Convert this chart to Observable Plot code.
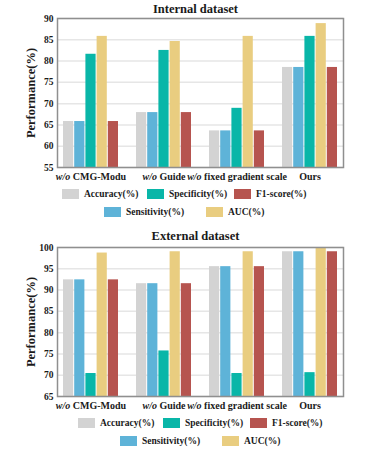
<!DOCTYPE html>
<html>
<head>
<meta charset="utf-8">
<script src="https://cdn.jsdelivr.net/npm/d3@7"></script>
<script src="https://cdn.jsdelivr.net/npm/@observablehq/plot@0.6"></script>
<style>
  body { margin: 0; background: #fff; }
  #wrap { position: relative; width: 391px; height: 452px; font-family: "Liberation Serif", "DejaVu Serif", serif; font-weight: bold; color: #1a1a1a; overflow: hidden; }
  .title { position: absolute; left: 0; width: 391px; text-align: center; font-size: 12.5px; line-height: 14px; }
  .ylab { position: absolute; font-size: 12.5px; line-height: 14px; white-space: nowrap; transform: translate(-50%, -50%) rotate(-90deg); }
  .chart { position: absolute; left: 0; }
  .leg { position: absolute; display: flex; align-items: center; font-size: 9.5px; white-space: nowrap; }
  .sw { width: 17px; height: 10px; margin-right: 5px; }
</style>
</head>
<body>
<div id="wrap"></div>
<script>
const categories = ["w/o CMG-Modu", "w/o Guide", "w/o fixed gradient scale", "Ours"];
const metrics = ["Accuracy(%)", "Sensitivity(%)", "Specificity(%)", "AUC(%)", "F1-score(%)"];
const colors = ["#d3d3d3", "#5eb3d8", "#09b6a8", "#e9cd80", "#b6544f"];

// Internal dataset
const internalAccuracy    = [65.8, 67.9, 63.6, 78.5];
const internalSensitivity = [65.8, 67.9, 63.6, 78.5];
const internalSpecificity = [81.6, 82.5, 68.9, 85.8];
const internalAUC         = [85.8, 84.6, 85.8, 88.8];
const internalF1          = [65.8, 67.9, 63.6, 78.5];

// External dataset
const externalAccuracy    = [92.4, 91.5, 95.5, 99.0];
const externalSensitivity = [92.4, 91.5, 95.5, 99.0];
const externalSpecificity = [70.4, 75.7, 70.4, 70.6];
const externalAUC         = [98.7, 99.0, 99.0, 99.8];
const externalF1          = [92.4, 91.5, 95.5, 99.0];

const internalDomain = [55, 90];
const internalTicks = [55, 60, 65, 70, 75, 80, 85, 90];
const externalDomain = [65, 100];
const externalTicks = [65, 70, 75, 80, 85, 90, 95, 100];

const titles = ["Internal dataset", "External dataset"];
const yLabel = "Performance(%)";

const wrap = document.getElementById("wrap");

const W = 391, mL = 57, mR = 48, mT = 18, mB = 18, plotH = 149;
const padIn = 0.243, padOut = 0.054;

function makeChart(series, domain, ticks) {
  const rows = categories.flatMap((c, i) => metrics.map((m, j) => ({category: c, metric: m, value: series[j][i]})));
  const step = (W - mL - mR) / (categories.length - padIn + 2 * padOut);
  const bw = step * (1 - padIn);
  const w = bw / metrics.length;
  const svg = Plot.plot({
    width: W,
    height: mT + plotH + mB,
    marginTop: mT, marginBottom: mB, marginLeft: mL, marginRight: mR,
    style: {fontFamily: "'Liberation Serif', serif", fontWeight: "bold", fontSize: "9.5px", color: "#1a1a1a", background: "transparent", overflow: "visible"},
    x: {domain: categories, paddingInner: padIn, paddingOuter: padOut, label: null, tickSize: 0, tickPadding: 5},
    y: {domain, ticks, label: null, tickSize: 0, tickPadding: 4},
    marks: [
      Plot.ruleY(ticks, {stroke: "#e6e6e6", strokeWidth: 1.5}),
      ...metrics.map((m, j) => Plot.barY(rows.filter(d => d.metric === m), {
        x: "category", y1: domain[0], y2: "value", fill: colors[j],
        insetLeft: j * w, insetRight: (metrics.length - 1 - j) * w
      })),
      Plot.frame({stroke: "#8f8f8f", strokeWidth: 1.5})
    ]
  });
  // italic "w/o" in category labels
  d3.select(svg).selectAll("text").each(function() {
    const t = this.textContent;
    if (categories.includes(t)) {
      const sel = d3.select(this).style("font-size", "10px");
      if (t.startsWith("w/o ")) {
        sel.text(null);
        sel.append("tspan").style("font-style", "italic").text("w/o");
        sel.append("tspan").text(" " + t.slice(4));
      }
    }
  });
  return svg;
}

function addPanel(top, titleY, series, domain, ticks, title, legTop, legLeft) {
  const ti = document.createElement("div");
  ti.className = "title";
  ti.style.top = (titleY - 7) + "px";
  ti.textContent = title;
  wrap.appendChild(ti);

  const ch = document.createElement("div");
  ch.className = "chart";
  ch.style.top = top + "px";
  ch.appendChild(makeChart(series, domain, ticks));
  wrap.appendChild(ch);

  const yl = document.createElement("div");
  yl.className = "ylab";
  yl.style.left = "31px";
  yl.style.top = (top + mT + plotH / 2) + "px";
  yl.textContent = yLabel;
  wrap.appendChild(yl);

  // legend: column-major, two rows
  const order = [0, 2, 4, 1, 3];
  const xs = [0, 85, 172, 42, 144];
  const ys = [0, 0, 0, 18, 18];
  order.forEach((mi, k) => {
    const it = document.createElement("div");
    it.className = "leg";
    it.style.left = (legLeft + xs[k]) + "px";
    it.style.top = (legTop + ys[k]) + "px";
    const sw = document.createElement("div");
    sw.className = "sw";
    sw.style.background = colors[mi];
    it.appendChild(sw);
    const tx = document.createElement("span");
    tx.textContent = metrics[mi];
    it.appendChild(tx);
    wrap.appendChild(it);
  });
}

addPanel(0, 8.5, [internalAccuracy, internalSensitivity, internalSpecificity, internalAUC, internalF1],
  internalDomain, internalTicks, titles[0], 189, 62);
addPanel(229, 236, [externalAccuracy, externalSensitivity, externalSpecificity, externalAUC, externalF1],
  externalDomain, externalTicks, titles[1], 418, 78);
</script>
</body>
</html>
